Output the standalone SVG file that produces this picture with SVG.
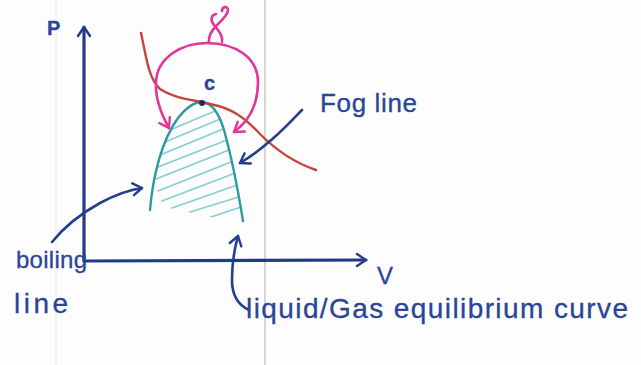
<svg xmlns="http://www.w3.org/2000/svg" width="641" height="365" viewBox="0 0 641 365">
  <style>
    .ink { fill: none; stroke: #243e8e; stroke-width: 2.6; stroke-linecap: round; stroke-linejoin: round; }
    .axis { fill: none; stroke: #22398a; stroke-width: 3.2; stroke-linecap: round; }
    .pink { fill: none; stroke: #e0379b; stroke-width: 2.6; stroke-linecap: round; stroke-linejoin: round; }
    .red { fill: none; stroke: #c4463a; stroke-width: 2.4; stroke-linecap: round; }
    .teal { fill: none; stroke: #2a9aa3; stroke-width: 2.4; stroke-linecap: round; }
    .hatch { stroke: #86cfd0; stroke-width: 1.8; stroke-linecap: round; }
    .txt { font-family: "Liberation Sans", "DejaVu Sans", sans-serif; fill: #2a4496; stroke: #2a4496; stroke-width: 0.3; }
  </style>
  <defs>
    <marker id="arrBlue" viewBox="-12 -8 14 16" markerWidth="14" markerHeight="16" refX="0" refY="0" orient="auto" markerUnits="userSpaceOnUse">
      <path d="M-9,-6 L0,0 L-9,6" fill="none" stroke="#243e8e" stroke-width="2.4" stroke-linecap="round" stroke-linejoin="round"/>
    </marker>
    <marker id="arrPink" viewBox="-12 -8 14 16" markerWidth="14" markerHeight="16" refX="0" refY="0" orient="auto" markerUnits="userSpaceOnUse">
      <path d="M-9,-6 L0,0 L-9,6" fill="none" stroke="#e0379b" stroke-width="2.4" stroke-linecap="round" stroke-linejoin="round"/>
    </marker>
    <clipPath id="bellClip">
      <path d="M150,210 C153,175 162,140 178,118 C186,108 195,102 202,102 C212,103 219,113 224,130 C231,155 238,190 243,221 Z"/>
    </clipPath>
  </defs>

  <rect width="641" height="365" fill="#fdfdfd"/>
  <line x1="56" y1="0" x2="56" y2="365" stroke="#ececec" stroke-width="1"/>
  <line x1="265" y1="0" x2="265" y2="365" stroke="#c9c9c9" stroke-width="1.5"/>

  <g id="axes">
    <path class="axis" d="M84,261 L84,27" marker-end="url(#arrBlue)"/>
    <path class="axis" d="M84,261 L366,260" marker-end="url(#arrBlue)"/>
  </g>

  <g id="two-phase-region">
    <g clip-path="url(#bellClip)">
      <line class="hatch" x1="170" y1="130" x2="215" y2="111"/>
      <line class="hatch" x1="165" y1="142" x2="225" y2="117"/>
      <line class="hatch" x1="160" y1="155" x2="228" y2="127"/>
      <line class="hatch" x1="158" y1="167" x2="232" y2="138"/>
      <line class="hatch" x1="156" y1="179" x2="234" y2="148"/>
      <line class="hatch" x1="158" y1="191" x2="236" y2="160"/>
      <line class="hatch" x1="162" y1="201" x2="238" y2="172"/>
      <line class="hatch" x1="172" y1="208" x2="240" y2="184"/>
      <line class="hatch" x1="190" y1="212" x2="242" y2="196"/>
      <line class="hatch" x1="208" y1="218" x2="244" y2="206"/>
    </g>
    <path class="teal" d="M150,210 C153,175 162,140 178,118 C186,108 195,102 202,102 C212,103 219,113 224,130 C231,155 238,190 243,221"/>
  </g>

  <g id="fog-curve">
    <path class="red" d="M141,33 C146,55 148,78 160,89 C175,99 195,100 210,104 C232,108 245,118 260,134 C278,152 295,163 316,170"/>
  </g>

  <g id="critical-point">
    <circle cx="202" cy="103" r="3" fill="#1c2a5c"/>
    <text class="txt" x="204" y="90" font-size="20" font-weight="bold">c</text>
  </g>

  <g id="pink-loop">
    <path class="pink" d="M207,43 C181,43 157,58 156,82 C155,98 160,112 169,128" marker-end="url(#arrPink)"/>
    <path class="pink" d="M207,43 C236,43 258,58 258,82 C258,105 249,121 234,132" marker-end="url(#arrPink)"/>
    <path class="pink" d="M209,43 C208,36 212,30 217,25 C222,20 228,15 228,10 C228,6 222,6 222,11"/>
    <path class="pink" d="M222,42 C223,35 218,30 214,25 C210,20 211,15 216,14"/>
  </g>

  <g id="connectors">
    <path class="ink" d="M302,110 C290,122 270,145 240,163" marker-end="url(#arrBlue)"/>
    <path class="ink" d="M52,242 C65,226 80,214 100,203 C115,195 128,190 142,188" marker-end="url(#arrBlue)"/>
    <path class="ink" d="M249,310 C238,305 232,296 232,280 C232,265 234,250 238,236" marker-end="url(#arrBlue)"/>
  </g>

  <g id="labels">
    <text class="txt" x="47" y="35" font-size="20" font-weight="bold">P</text>
    <text class="txt" x="377" y="284" font-size="24">V</text>
    <text class="txt" x="320" y="112" font-size="26" textLength="97" lengthAdjust="spacing">Fog line</text>
    <text class="txt" x="16" y="268" font-size="24" textLength="71" lengthAdjust="spacing">boiling</text>
    <text class="txt" x="14" y="313" font-size="28" textLength="54" lengthAdjust="spacing">line</text>
    <text class="txt" x="246" y="318" font-size="28" textLength="382" lengthAdjust="spacing">liquid/Gas equilibrium curve</text>
  </g>
</svg>
